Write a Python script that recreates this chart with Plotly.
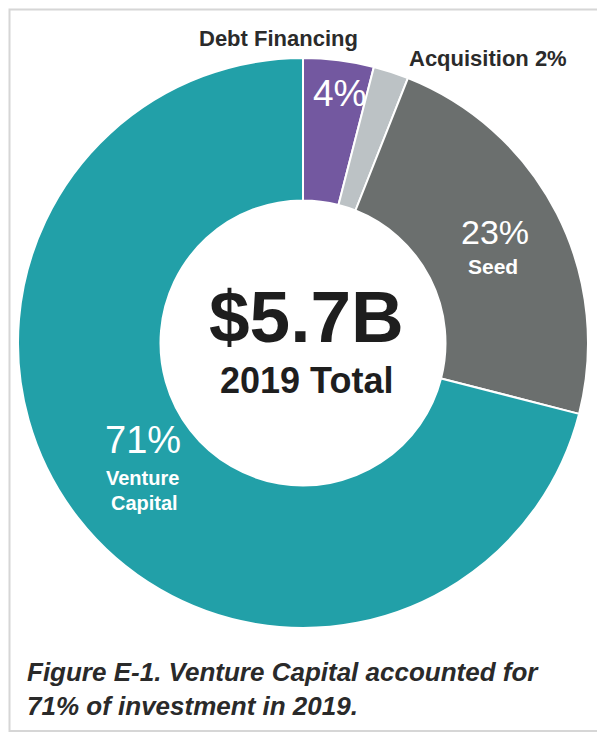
import plotly.graph_objects as go

# page body has an 8px margin, so the figure starts at (8, 8) in the window
OFF = 8
W, H = 605 - OFF, 735 - OFF

categories = ["Debt Financing", "Acquisition", "Seed", "Venture Capital"]
shares = [4, 2, 23, 71]
colors = ["#7358A0", "#BCC2C5", "#6B6F6E", "#22A0A8"]

total_label = "$5.7B"
total_sub = "2019 Total"
caption_lines = ["Figure E-1. Venture Capital accounted for", "71% of investment in 2019."]

FONT = "Liberation Sans, Arial, Helvetica, sans-serif"

def px(x):
    return (x - OFF) / W

def py(y):
    return 1 - (y - OFF) / H

cx, cy, R = 303, 343, 285

fig = go.Figure(go.Pie(
    labels=categories,
    values=shares,
    marker=dict(colors=colors, line=dict(color="white", width=2)),
    hole=0.5,
    sort=False,
    direction="clockwise",
    rotation=0,
    textinfo="none",
    hoverinfo="label+percent",
    showlegend=False,
    domain=dict(x=[px(cx - R), px(cx + R)], y=[py(cy + R), py(cy - R)]),
))

ann = []
def add(text, x, y, size, color="#2b2b2b", bold=True, xanchor="center"):
    t = f"<b>{text}</b>" if bold else text
    ann.append(dict(text=t, x=px(x), y=py(y), xref="paper", yref="paper",
                    showarrow=False, xanchor=xanchor, yanchor="middle",
                    font=dict(family=FONT, size=size, color=color)))

add("Debt Financing", 278, 38, 22)
add(f"Acquisition {shares[1]}%", 488, 59, 22)
add(f"{shares[0]}%", 339, 93, 37, color="white", bold=False)
add(f"{shares[2]}%", 495, 232, 34, color="white", bold=False)
add("Seed", 493, 266, 21, color="white")
add(total_label, 306, 316, 73, color="#1e1e1e")
add(total_sub, 306, 381, 36, color="#1e1e1e")
add(f"{shares[3]}%", 143, 440, 38, color="white", bold=False)
add("Venture", 142, 478, 20, color="white")
add("Capital", 144, 503, 20, color="white")

for i, line in enumerate(caption_lines):
    ann.append(dict(text=f"<b><i>{line}</i></b>", x=px(25), y=py(672 + 34 * i),
                    xref="paper", yref="paper", showarrow=False,
                    xanchor="left", yanchor="middle",
                    font=dict(family=FONT, size=26, color="#2a2a2a")))

fig.update_layout(
    width=W, height=H,
    margin=dict(l=0, r=0, t=0, b=0),
    paper_bgcolor="white",
    plot_bgcolor="white",
    annotations=ann,
    shapes=[dict(type="rect", xref="paper", yref="paper",
                 x0=px(9.5), x1=px(602), y0=py(731), y1=py(9.5),
                 line=dict(color="#d6d6d6", width=2))],
)

fig.write_html("out.html")
